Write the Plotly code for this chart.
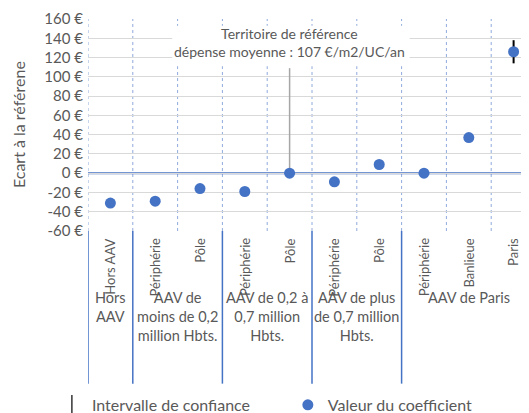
import plotly.graph_objects as go

# categories (inner level) and groups (outer level)
categories = ["Hors AAV", "Périphérie", "Pôle", "Périphérie", "Pôle",
              "Périphérie", "Pôle", "Périphérie", "Banlieue", "Paris"]
groups = ["Hors<br>AAV", "AAV de<br>moins de 0,2<br>million Hbts.",
          "AAV de 0,2 à<br>0,7 million<br>Hbts.", "AAV de plus<br>de 0,7 million<br>Hbts.",
          "AAV de Paris"]
group_sizes = [1, 2, 2, 2, 3]

# coefficient values (€/m2/UC/an, écart à la référence) and CI half-width
coef = [-31, -29, -16, -19, 0, -9, 9, 0, 37, 126]
ci_half = [2, 2, 2, 2, 0, 2, 2, 1, 3, 12]

y_ticks = [-60, -40, -20, 0, 20, 40, 60, 80, 100, 120, 140, 160]
ref_label = "Territoire de référence<br>dépense moyenne : 107 €/m2/UC/an"
ref_line_top = 109

FONT = "Lato"
GREY = "#595959"
BLUE = "#4472c4"

x = list(range(len(categories)))

fig = go.Figure()

# confidence intervals (error bars only)
fig.add_trace(go.Scatter(
    x=x, y=coef,
    mode="markers",
    showlegend=False,
    marker=dict(size=2, color="black", opacity=0),
    error_y=dict(type="data", array=ci_half, color="black", thickness=2, width=0),
))
# legend entry for the confidence interval
fig.add_trace(go.Scatter(
    x=[None], y=[None],
    mode="markers",
    name="Intervalle de confiance",
    legend="legend",
    marker=dict(symbol="line-ns", size=14, color="black",
                line=dict(color="black", width=1.2)),
))
fig.add_trace(go.Scatter(
    x=x, y=coef,
    mode="markers",
    name="Valeur du coefficient",
    legend="legend2",
    marker=dict(size=11, color=BLUE),
))

shapes = []
# white box behind the reference label (hides horizontal gridlines)
shapes.append(dict(type="rect", xref="x", yref="y", x0=1.38, x1=6.68, y0=111, y1=153,
                   fillcolor="white", line=dict(width=0), layer="between"))
# dotted vertical gridlines at each category boundary
for b in range(len(categories)):
    shapes.append(dict(type="line", xref="x", yref="paper", x0=b - 0.5, x1=b - 0.5,
                       y0=0, y1=1, line=dict(color="#8faadc", width=1, dash="dot"),
                       layer="between"))
# zero line
shapes.append(dict(type="line", xref="paper", yref="y", x0=0, x1=1, y0=0, y1=0,
                   line=dict(color=BLUE, width=2), layer="between"))
# callout line from reference point
shapes.append(dict(type="line", xref="x", yref="y", x0=4, x1=4, y0=0, y1=ref_line_top,
                   line=dict(color="#a6a6a6", width=1.5), layer="between"))

annotations = []
# group separators and group labels
start = 0
for g, n in zip(groups, group_sizes):
    shapes.append(dict(type="line", xref="x", yref="paper", x0=start - 0.5, x1=start - 0.5,
                       y0=0, y1=-0.72, line=dict(color=BLUE, width=1.5)))
    annotations.append(dict(x=start + (n - 1) / 2, y=-0.265, xref="x", yref="paper",
                            text=g, showarrow=False, yanchor="top", xanchor="center",
                            font=dict(family=FONT, size=14.5, color=GREY)))
    start += n

# rotated category labels
for i, c in enumerate(categories):
    annotations.append(dict(x=i, y=-0.025, xref="x", yref="paper", text=c,
                            textangle=-90, showarrow=False, yanchor="top", xanchor="center",
                            font=dict(family=FONT, size=13, color=GREY)))

annotations.append(dict(x=4, y=136, xref="x", yref="y", text=ref_label, showarrow=False,
                        xanchor="center", yanchor="middle",
                        font=dict(family=FONT, size=14, color=GREY)))
annotations.append(dict(x=-0.156, y=0.5, xref="paper", yref="paper",
                        text="Ecart à la référene", textangle=-90, showarrow=False,
                        xanchor="center", yanchor="middle",
                        font=dict(family=FONT, size=16, color=GREY)))

legend_style = dict(xref="container", yref="container", y=0.039,
                    xanchor="left", yanchor="middle", bgcolor="rgba(0,0,0,0)",
                    font=dict(family=FONT, size=16, color=GREY))

# the page body adds an 8px offset, so margins are shifted by 8px
fig.update_layout(
    width=529, height=413,
    margin=dict(l=80, r=1, t=11, b=190, autoexpand=False),
    paper_bgcolor="white", plot_bgcolor="white",
    font=dict(family=FONT, size=14, color=GREY),
    shapes=shapes,
    annotations=annotations,
    showlegend=True,
    legend=dict(x=0.083, **legend_style),
    legend2=dict(x=0.529, **legend_style),
)
fig.update_xaxes(range=[-0.5, 9.5], showgrid=False, zeroline=False,
                 showticklabels=False, ticks="", automargin=False)
fig.update_yaxes(range=[-60, 160], tickvals=y_ticks,
                 ticktext=[f"{v} €" for v in y_ticks],
                 showgrid=True, gridcolor="#d9d9d9", gridwidth=1,
                 zeroline=False, ticklabelstandoff=4, automargin=False,
                 tickfont=dict(family=FONT, size=15, color=GREY))

fig.write_html("out.html")
